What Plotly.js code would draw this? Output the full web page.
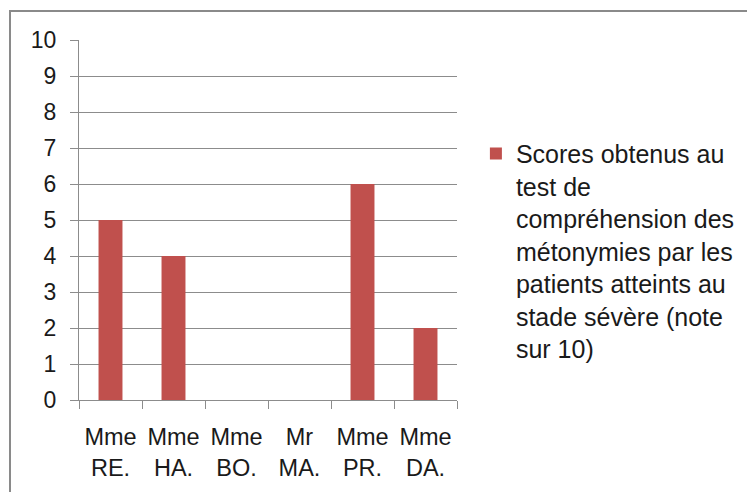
<!DOCTYPE html>
<html>
<head>
<meta charset="utf-8">
<script src="https://cdn.plot.ly/plotly-3.0.1.min.js"></script>
<style>
  html, body { margin: 0; padding: 0; background: #fff; overflow: hidden; }
  #wrap { position: relative; width: 747px; height: 492px; }
  #chart { position: absolute; left: 0; top: 0; width: 747px; height: 492px; }
  #frame { position: absolute; left: 9px; top: 10px; width: 900px; height: 700px;
           border-left: 2px solid #8a8a8a; border-top: 2px solid #8a8a8a; pointer-events: none; }
</style>
</head>
<body>
<div id="wrap">
  <div id="chart"></div>
  <div id="frame"></div>
</div>
<script>
const categories = ["Mme<br>RE.", "Mme<br>HA.", "Mme<br>BO.", "Mr<br>MA.", "Mme<br>PR.", "Mme<br>DA."];
const scores = [5, 4, 0, 0, 6, 2];
const seriesName = "Scores obtenus au<br>test de<br>compréhension des<br>métonymies par les<br>patients atteints au<br>stade sévère (note<br>sur 10)";
const yTicks = [0, 1, 2, 3, 4, 5, 6, 7, 8, 9, 10];

const font = "Liberation Sans, Arial, sans-serif";
const textColor = "#1a1a1a";
const gridColor = "#8c8c8c";

const data = [{
  type: "bar",
  x: categories,
  y: scores,
  name: seriesName,
  marker: { color: "#C0504D", line: { width: 0 } },
  showlegend: true,
  hoverinfo: "none"
}];

const layout = {
  width: 747,
  height: 492,
  margin: { l: 79, r: 290, t: 40, b: 92, pad: 0, autoexpand: false },
  paper_bgcolor: "#ffffff",
  plot_bgcolor: "#ffffff",
  font: { family: font, color: textColor, size: 22 },
  bargap: 0.62,
  showlegend: true,
  xaxis: {
    type: "category",
    tickson: "boundaries",
    ticks: "outside",
    ticklen: 8,
    tickwidth: 1,
    tickcolor: gridColor,
    showline: true,
    linecolor: gridColor,
    linewidth: 1,
    showgrid: false,
    zeroline: false,
    tickfont: { family: font, size: 23.5, color: textColor },
    ticklabelstandoff: 16
  },
  yaxis: {
    range: [0, 10],
    tickvals: yTicks,
    ticktext: yTicks.map(String),
    ticks: "outside",
    ticklen: 8,
    tickwidth: 1,
    tickcolor: gridColor,
    showline: true,
    linecolor: gridColor,
    linewidth: 1,
    showgrid: true,
    gridcolor: gridColor,
    gridwidth: 1,
    zeroline: false,
    tickfont: { family: font, size: 23, color: textColor },
    ticklabelstandoff: 9
  },
  legend: {
    x: 1.050,
    xanchor: "left",
    y: 0.748,
    yanchor: "top",
    valign: "top",
    bgcolor: "rgba(0,0,0,0)",
    borderwidth: 0,
    font: { family: font, size: 25, color: textColor }
  }
};

Plotly.newPlot("chart", data, layout, { displayModeBar: false, staticPlot: true });
</script>
</body>
</html>
